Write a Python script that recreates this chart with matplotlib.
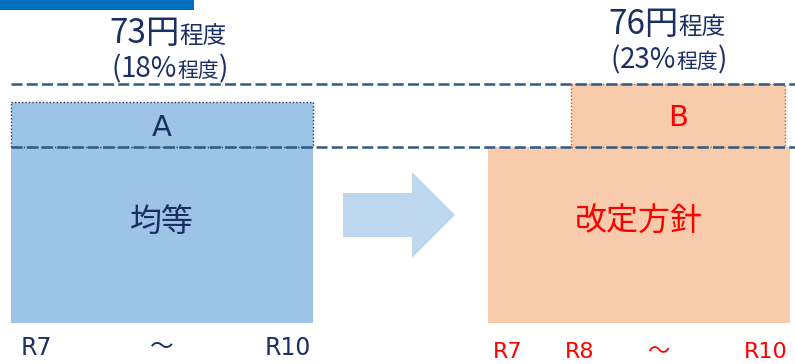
import matplotlib.pyplot as plt
from matplotlib.patches import Rectangle, Polygon

plt.rcParams['font.family'] = ['Noto Sans CJK JP', 'DejaVu Sans']

# 値
plans = ['均等', '改定方針']
amounts = [73, 76]          # 円程度
shares = [18, 23]           # %程度
part_labels = ['A', 'B']
periods = [['R7', '～', 'R10'], ['R7', 'R8', '～', 'R10']]

NAVY = '#1B2F63'
RED = '#FF0000'
DASH = '#2E5A86'

fig = plt.figure(figsize=(7.95, 3.64), dpi=100)
ax = fig.add_axes([0, 0, 1, 1])
ax.set_xlim(0, 795)
ax.set_ylim(364, 0)
ax.axis('off')
renderer = fig.canvas.get_renderer()


def rich(xc, yb, parts, color):
    # 大きさの違う文字列を横に並べて中央揃え
    objs = []
    x = 0
    for s, size in parts:
        t = ax.text(x, yb, s, fontsize=size, color=color, ha='left', va='baseline')
        w = t.get_window_extent(renderer).width
        objs.append((t, x))
        x += w
    x0 = xc - x / 2
    for t, dx in objs:
        t.set_x(x0 + dx)


# 上の青い帯
ax.add_patch(Rectangle((0, 0), 194, 10, color='#0070C0', lw=0))

# 本体の棒
bars = [(11, 313, '#9DC3E6', NAVY, '#1F3864'), (488, 790, '#F8CBAD', RED, '#C55A11')]
top_box = [(11, 313, 102), (571, 785, 84)]
centers = [168, 667]
base_y = [43, 34]

for i, (x0, x1, fc, tc, ec) in enumerate(bars):
    ax.add_patch(Rectangle((x0, 147), x1 - x0, 176, color=fc, lw=0))
    bx0, bx1, by = top_box[i]
    ax.add_patch(Rectangle((bx0, by), bx1 - bx0, 147 - by, facecolor=fc,
                           edgecolor=ec, lw=1.0, ls=(0, (1, 1.5))))
    ax.text((bx0 + bx1) / 2, (by + 147) / 2 + 3, part_labels[i], fontsize=21,
            color=tc, ha='center', va='center', family='DejaVu Sans')
    ax.text((x0 + x1) / 2, 222, plans[i], fontsize=23, color=tc,
            ha='center', va='center')
    rich(centers[i], base_y[i], [(f'{amounts[i]}円', 24), ('程度', 17)], NAVY)
    rich(centers[i] + 2, base_y[i] + 34,
         [('(', 20), (f'{shares[i]}%', 20), ('程度', 15), (')', 20)], NAVY)

# 破線
for y in [84, 147]:
    ax.plot([11, 795], [y, y], color=DASH, lw=1.8, ls=(0, (4.4, 1.7)))

# 矢印
ax.add_patch(Polygon([(343, 193), (412, 193), (412, 172), (455, 215),
                      (412, 258), (412, 237), (343, 237)],
                     closed=True, color='#BDD7EE', lw=0))

# 期間ラベル
xs = [[36, 162, 288], [508, 580, 658, 766]]
ys = [348, 352]
sizes = [17, 16]
cols = [NAVY, RED]
for i, labs in enumerate(periods):
    for x, s in zip(xs[i], labs):
        ax.text(x, ys[i], s, fontsize=sizes[i], color=cols[i], ha='center',
                va='center', family='DejaVu Sans Condensed' if s != '～' else None)

fig.savefig('out.png', dpi=100)
